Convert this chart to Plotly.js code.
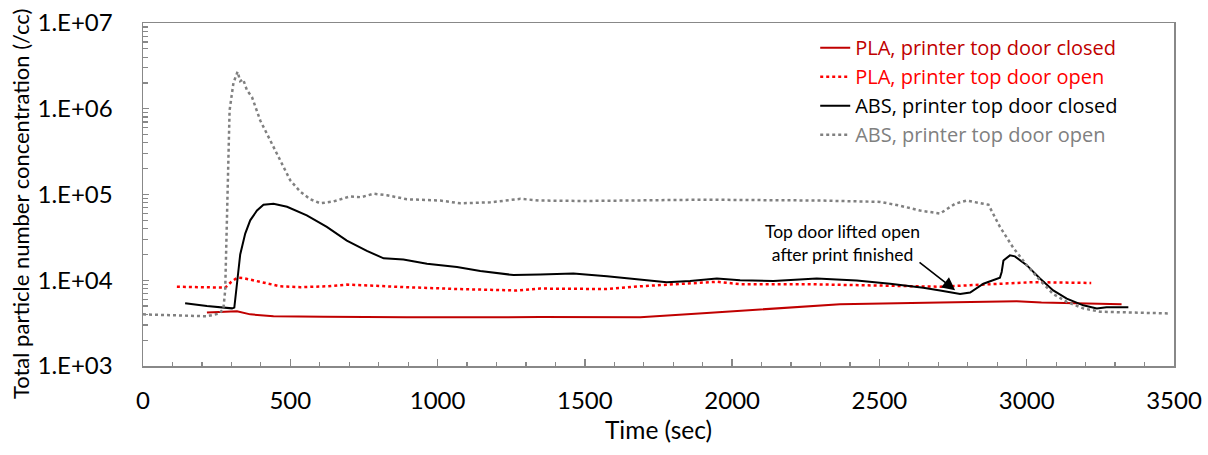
<!DOCTYPE html>
<html>
<head>
<meta charset="utf-8">
<script src="https://cdn.plot.ly/plotly-3.0.1.min.js"></script>
<style>html,body{margin:0;padding:0;background:#fff;}#chart{width:1208px;height:455px;}</style>
</head>
<body>
<div id="chart"></div>
<script>
// ---- data (time in sec, concentration in /cc) ----
var plaClosedT = [217, 319, 364, 443, 613, 896, 1348, 1688, 1914, 2140, 2366, 2706, 2966, 3050, 3322];
var plaClosedV = [4200, 4350, 4000, 3800, 3750, 3700, 3720, 3700, 4150, 4700, 5250, 5500, 5700, 5500, 5250];

var plaOpenT = [115, 200, 279, 300, 319, 340, 398, 466, 534, 624, 692, 783, 896, 1066, 1269, 1348, 1575, 1688, 1801, 1948, 2027, 2253, 2479, 2706, 2909, 3022, 3219];
var plaOpenV = [8400, 8300, 8200, 9600, 10700, 10600, 9600, 8500, 8300, 8500, 8900, 8600, 8300, 7900, 7600, 8000, 7900, 8500, 9000, 9600, 9000, 9000, 8700, 8400, 9100, 9500, 9300];

var absClosedT = [143, 217, 302, 310, 319, 330, 347, 364, 387, 409, 443, 489, 556, 624, 692, 760, 817, 884, 964, 1066, 1145, 1258, 1348, 1461, 1575, 1688, 1778, 1857, 1948, 2027, 2140, 2287, 2423, 2536, 2649, 2706, 2774, 2808, 2853, 2909, 2915, 2921, 2943, 2960, 3000, 3045, 3090, 3136, 3192, 3238, 3271, 3345];
var absClosedV = [5400, 5000, 4700, 4800, 9100, 20000, 35000, 50000, 65000, 76000, 78000, 72000, 57000, 42000, 29000, 22000, 18000, 17500, 15600, 14300, 12800, 11500, 11700, 12000, 11100, 10200, 9500, 9800, 10500, 10000, 9800, 10500, 9900, 9100, 8200, 7600, 6900, 7200, 9100, 10700, 12500, 17000, 19500, 19000, 15000, 10500, 7600, 6100, 5100, 4700, 4850, 4850];

var absOpenT = [0, 100, 217, 260, 273, 279, 287, 294, 307, 321, 330, 340, 353, 370, 398, 432, 466, 500, 534, 568, 602, 647, 703, 740, 783, 828, 896, 1009, 1077, 1179, 1281, 1349, 1500, 1700, 1900, 2100, 2300, 2503, 2570, 2638, 2706, 2757, 2796, 2853, 2870, 2909, 2954, 3000, 3045, 3090, 3136, 3192, 3249, 3361, 3483];
var absOpenV = [4000, 3900, 3800, 4100, 4700, 7600, 85000, 960000, 2.0e6, 2.7e6, 2.1e6, 2.2e6, 1.64e6, 1.37e6, 7.3e5, 4.3e5, 2.5e5, 1.46e5, 1.08e5, 8.8e4, 7.9e4, 8.3e4, 9.5e4, 9.3e4, 1.02e5, 9.8e4, 8.8e4, 8.5e4, 7.9e4, 8.1e4, 8.9e4, 8.5e4, 8.4e4, 8.5e4, 8.7e4, 8.6e4, 8.5e4, 8.2e4, 7.4e4, 6.5e4, 6.0e4, 7.8e4, 8.5e4, 7.8e4, 7.6e4, 4.2e4, 2.4e4, 1.5e4, 1.0e4, 6.9e3, 5.6e3, 4.7e3, 4.3e3, 4.2e3, 4.1e3];

var seriesNames = ['PLA, printer top door closed', 'PLA, printer top door open', 'ABS, printer top door closed', 'ABS, printer top door open'];
var yTickVals = [1e3, 1e4, 1e5, 1e6, 1e7];
var yTickText = ['1.E+03', '1.E+04', '1.E+05', '1.E+06', '1.E+07'];
var xTickVals = [0, 500, 1000, 1500, 2000, 2500, 3000, 3500];
var xTitle = 'Time (sec)';
var yTitle = 'Total particle number concentration (/cc)';
var annText = 'Top door lifted open<br>after print finished';

// ---- styling ----
var colors = ['#C00000', '#FF0000', '#000000', '#808080'];
function nm(i){ return '<span style="color:' + colors[i] + '">' + seriesNames[i] + '</span>'; }

var minorY = [];
for (var d = 3; d < 7; d++) { for (var m = 2; m <= 9; m++) minorY.push(m * Math.pow(10, d)); }

var traces = [
  {x: plaClosedT, y: plaClosedV, name: nm(0), mode: 'lines', line: {color: colors[0], width: 2}},
  {x: plaOpenT, y: plaOpenV, name: nm(1), mode: 'lines', line: {color: colors[1], width: 2.5, dash: 'dot'}},
  {x: absClosedT, y: absClosedV, name: nm(2), mode: 'lines', line: {color: colors[2], width: 2}},
  {x: absOpenT, y: absOpenV, name: nm(3), mode: 'lines', line: {color: colors[3], width: 2.5, dash: 'dot'}}
];

var font = 'Lato, "Open Sans", sans-serif';
var layout = {
  width: 1208, height: 455,
  margin: {l: 143, r: 34, t: 23, b: 89, pad: 0},
  paper_bgcolor: '#fff', plot_bgcolor: '#fff',
  font: {family: font, size: 24, color: '#000'},
  showlegend: true,
  legend: {x: 0.652, y: 0.985, xanchor: 'left', yanchor: 'top', bgcolor: 'rgba(0,0,0,0)',
           font: {family: '"Open Sans", sans-serif', size: 20}, tracegroupgap: 0, itemwidth: 30},
  xaxis: {
    range: [0, 3500], tickvals: xTickVals, ticktext: xTickVals.map(String),
    showgrid: false, zeroline: false, showline: true, linecolor: '#888', linewidth: 1.5, mirror: true,
    ticks: 'inside', ticklen: 7, tickcolor: '#888', tickwidth: 1.3,
    minor: {ticks: 'inside', ticklen: 4, tickcolor: '#888', tickwidth: 1.2, dtick: 100, tick0: 0, showgrid: false},
    ticklabelstandoff: 13,
    tickfont: {family: font, size: 24},
    title: {text: xTitle, font: {family: font, size: 24.5}, standoff: 8}
  },
  yaxis: {
    type: 'log', range: [3, 7], tickvals: yTickVals, ticktext: yTickText,
    showgrid: false, zeroline: false, showline: true, linecolor: '#888', linewidth: 1.5, mirror: true,
    ticks: 'inside', ticklen: 6, tickcolor: '#888', tickwidth: 1.3,
    minor: {ticks: 'inside', ticklen: 5, tickcolor: '#888', tickwidth: 1.2, tickvals: minorY, showgrid: false},
    ticklabelstandoff: 24,
    tickfont: {family: font, size: 24}
  },
  annotations: [
    {x: -0.1193, y: 0.472, xref: 'paper', yref: 'paper', xanchor: 'center', yanchor: 'middle',
     text: yTitle, textangle: -90, showarrow: false, font: {family: font, size: 22, color: '#000'}},
    {x: 2376, y: 4.431, xref: 'x', yref: 'y', text: annText, showarrow: false,
     font: {family: font, size: 17.5, color: '#000'}, align: 'center'},
    {x: 2757, y: 3.883, xref: 'x', yref: 'y', ax: 2631, ay: 4.221, axref: 'x', ayref: 'y',
     text: '', showarrow: true, arrowhead: 2, arrowsize: 1.6, arrowwidth: 1.6, arrowcolor: '#000'}
  ]
};

Plotly.newPlot('chart', traces, layout, {staticPlot: true, displayModeBar: false});
</script>
</body>
</html>
